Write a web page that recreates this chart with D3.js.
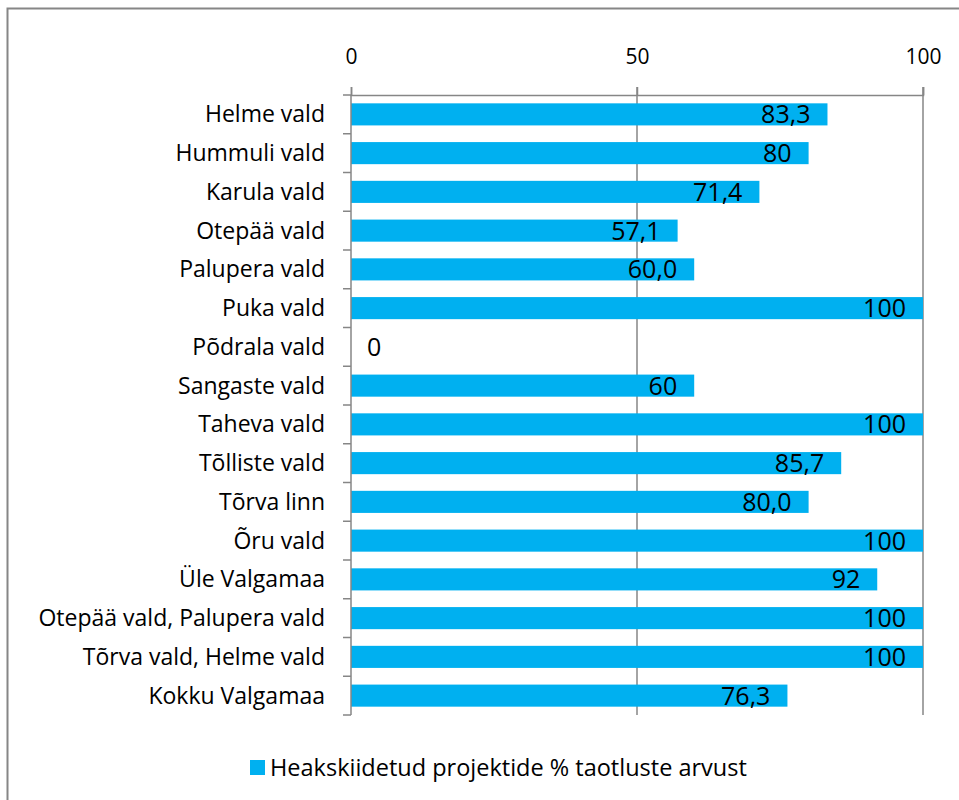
<!DOCTYPE html>
<html>
<head>
<meta charset="utf-8">
<script src="https://cdn.jsdelivr.net/npm/d3@7"></script>
<style>
  body { margin: 0; background: #fff; }
  svg { display: block; font-family: "Open Sans", sans-serif; }
</style>
</head>
<body>
<svg id="chart" width="959" height="800"></svg>
<script>
// Andmed
const vallad = ["Helme vald", "Hummuli vald", "Karula vald", "Otepää vald", "Palupera vald",
  "Puka vald", "Põdrala vald", "Sangaste vald", "Taheva vald", "Tõlliste vald", "Tõrva linn",
  "Õru vald", "Üle Valgamaa", "Otepää vald, Palupera vald", "Tõrva vald, Helme vald", "Kokku Valgamaa"];
const protsendid = [83.3, 80, 71.4, 57.1, 60.0, 100, 0, 60, 100, 85.7, 80.0, 100, 92, 100, 100, 76.3];
const sildid = ["83,3", "80", "71,4", "57,1", "60,0", "100", "0", "60", "100", "85,7", "80,0", "100", "92", "100", "100", "76,3"];
const xTicks = [0, 50, 100];
const legendText = "Heakskiidetud projektide % taotluste arvust";

const svg = d3.select("#chart");

// Raam (ainult vasak ja ülemine serv näha)
svg.append("rect")
    .attr("x", 7.5).attr("y", 8.5)
    .attr("width", 1000).attr("height", 900)
    .attr("fill", "#fff")
    .attr("stroke", "#868686")
    .attr("stroke-width", 2);

const plotLeft = 351, plotRight = 923, plotTop = 95, plotBottom = 715;

const x = d3.scaleLinear().domain([0, 100]).range([plotLeft, plotRight]);
const y = d3.scaleBand().domain(vallad).range([plotTop, plotBottom]).paddingInner(0.43).paddingOuter(0.215);

// Ruudujooned
svg.append("g")
  .selectAll("line")
  .data(xTicks.slice(1))
  .join("line")
    .attr("x1", d => x(d)).attr("x2", d => x(d))
    .attr("y1", plotTop - 8).attr("y2", plotBottom)
    .attr("stroke", "#868686")
    .attr("stroke-width", 1.5);

// Tulbad
svg.append("g")
  .selectAll("rect")
  .data(protsendid)
  .join("rect")
    .attr("x", x(0))
    .attr("y", (d, i) => y(vallad[i]))
    .attr("width", d => x(d) - x(0))
    .attr("height", y.bandwidth())
    .attr("fill", "#00B0F0");

// Ülemine telg
const xAxis = svg.append("g")
    .attr("transform", `translate(0, ${plotTop})`)
    .call(d3.axisTop(x).tickValues(xTicks).tickSize(8).tickPadding(23).tickFormat(d3.format("d")));
xAxis.select(".domain").attr("stroke", "#868686").attr("stroke-width", 1.5);
xAxis.selectAll(".tick line").attr("stroke", "#868686").attr("stroke-width", 1.5);
xAxis.selectAll(".tick text").attr("font-size", 21).attr("fill", "#000").attr("font-family", "'Open Sans', sans-serif");

// Vasak telg
const yLine = svg.append("g");
yLine.append("line")
    .attr("x1", plotLeft).attr("x2", plotLeft)
    .attr("y1", plotTop).attr("y2", plotBottom)
    .attr("stroke", "#868686").attr("stroke-width", 1.5);
const step = y.step();
yLine.selectAll("line.t")
  .data(d3.range(vallad.length + 1))
  .join("line")
    .attr("class", "t")
    .attr("x1", plotLeft - 8).attr("x2", plotLeft)
    .attr("y1", i => plotTop + i * step).attr("y2", i => plotTop + i * step)
    .attr("stroke", "#868686").attr("stroke-width", 1.5);

// Kategooriate nimed
svg.append("g")
  .selectAll("text")
  .data(vallad)
  .join("text")
    .attr("x", 325)
    .attr("y", d => y(d) + y.bandwidth() / 2)
    .attr("dy", "0.35em")
    .attr("text-anchor", "end")
    .attr("font-size", 23)
    .text(d => d);

// Väärtuste sildid
svg.append("g")
  .selectAll("text")
  .data(protsendid)
  .join("text")
    .attr("x", d => d > 0 ? x(d) - 17 : x(0) + 16)
    .attr("y", (d, i) => y(vallad[i]) + y.bandwidth() / 2)
    .attr("dy", "0.36em")
    .attr("text-anchor", d => d > 0 ? "end" : "start")
    .attr("font-size", 25)
    .text((d, i) => sildid[i]);

// Legend
const legend = svg.append("g");
legend.append("rect")
    .attr("x", 250).attr("y", 760)
    .attr("width", 15).attr("height", 15)
    .attr("fill", "#00B0F0");
legend.append("text")
    .attr("x", 270).attr("y", 768)
    .attr("dy", "0.35em")
    .attr("font-size", 23.5)
    .text(legendText);
</script>
</body>
</html>
